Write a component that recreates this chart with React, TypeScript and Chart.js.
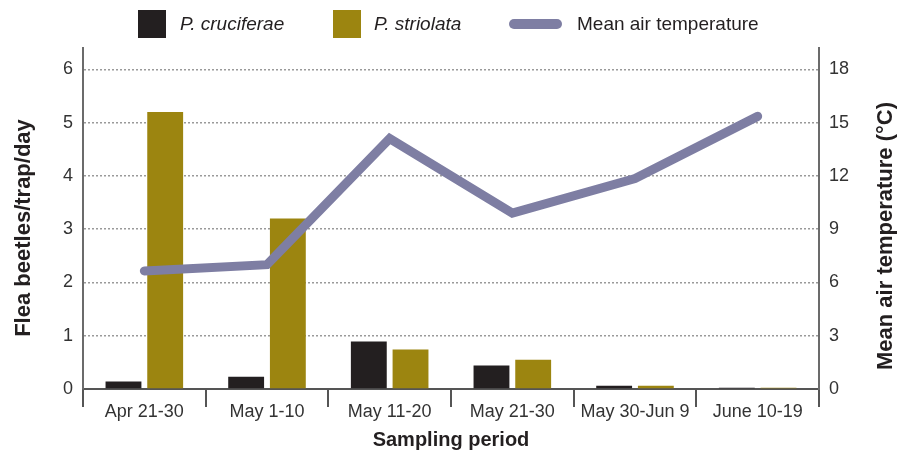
import React, { useEffect, useRef } from "react";
import { Chart, registerables } from "chart.js";

Chart.register(...registerables);

const categories = ["Apr 21-30", "May 1-10", "May 11-20", "May 21-30", "May 30-Jun 9", "June 10-19"];
const cruciferae = [0.14, 0.23, 0.89, 0.44, 0.06, 0.025];
const striolata = [5.2, 3.2, 0.74, 0.55, 0.06, 0.025];
const meanTemp = [6.65, 7.0, 14.1, 9.9, 11.85, 15.35];
const leftTicks = [0, 1, 2, 3, 4, 5, 6];
const rightTicks = [0, 3, 6, 9, 12, 15, 18];

const FONT = "'Liberation Sans', Arial, Helvetica, sans-serif";
const BLACK = "#231f20";
const GOLD = "#9c8510";
const LINE = "#7e7ea3";
const AXIS = "#6b6b6b";

const legendPlugin = {
  id: "customLegend",
  afterDraw(chart: any) {
    const ctx = chart.ctx;
    ctx.save();
    ctx.fillStyle = BLACK;
    ctx.fillRect(138, 10, 28, 28);
    ctx.fillStyle = GOLD;
    ctx.fillRect(333, 10, 28, 28);
    ctx.strokeStyle = LINE;
    ctx.lineWidth = 10;
    ctx.lineCap = "round";
    ctx.beginPath();
    ctx.moveTo(514, 24);
    ctx.lineTo(557, 24);
    ctx.stroke();
    ctx.fillStyle = BLACK;
    ctx.textBaseline = "middle";
    ctx.textAlign = "left";
    ctx.font = `italic 19px ${FONT}`;
    ctx.fillText("P. cruciferae", 180, 25);
    ctx.fillText("P. striolata", 374, 25);
    ctx.font = `19px ${FONT}`;
    ctx.fillText("Mean air temperature", 577, 25);
    // axis titles, reading bottom to top
    ctx.font = `bold 22px ${FONT}`;
    ctx.textAlign = "center";
    ctx.save();
    ctx.translate(24, 228);
    ctx.rotate(-Math.PI / 2);
    ctx.fillText("Flea beetles/trap/day", 0, 0);
    ctx.restore();
    ctx.save();
    ctx.translate(886, 236);
    ctx.rotate(-Math.PI / 2);
    ctx.fillText("Mean air temperature (\u00B0C)", 0, 0);
    ctx.restore();
    ctx.restore();
  },
};

export default function App() {
  const ref = useRef<HTMLCanvasElement>(null);
  useEffect(() => {
    if (!ref.current) return;
    const chart = new Chart(ref.current, {
      type: "bar",
      data: {
        labels: categories,
        datasets: [
          {
            type: "line",
            label: "Mean air temperature",
            data: meanTemp,
            yAxisID: "y1",
            borderColor: LINE,
            backgroundColor: LINE,
            borderWidth: 9,
            borderCapStyle: "round",
            borderJoinStyle: "miter",
            pointRadius: 0,
            tension: 0,
            order: 0,
          } as any,
          {
            label: "P. cruciferae",
            data: cruciferae,
            backgroundColor: BLACK,
            yAxisID: "y",
            barPercentage: 0.86,
            categoryPercentage: 0.68,
            order: 1,
          },
          {
            label: "P. striolata",
            data: striolata,
            backgroundColor: GOLD,
            yAxisID: "y",
            barPercentage: 0.86,
            categoryPercentage: 0.68,
            order: 1,
          },
        ],
      },
      options: {
        animation: false,
        responsive: true,
        maintainAspectRatio: false,
        layout: { padding: { top: 48, left: 0, right: 0, bottom: 0 } },
        plugins: { legend: { display: false }, tooltip: { enabled: false } },
        scales: {
          x: {
            grid: {
              display: true,
              drawOnChartArea: false,
              drawTicks: true,
              tickLength: 18,
              color: "#555",
              lineWidth: 2,
              offset: true,
            },
            border: { display: true, color: "#555", width: 2 },
            ticks: { color: "#333", font: { family: FONT, size: 18 }, padding: -6, maxRotation: 0 },
            title: {
              display: true,
              text: "Sampling period",
              color: BLACK,
              font: { family: FONT, size: 20, weight: "bold" },
              padding: { top: 0, bottom: 1 },
            },
            afterFit: (s: any) => { s.height = 64; },
          },
          y: {
            position: "left",
            min: 0,
            max: 6.4,
            afterBuildTicks: (s: any) => { s.ticks = leftTicks.map((v) => ({ value: v })); },
            grid: {
              color: "#9a9a9a",
              lineWidth: 1.5,
              drawTicks: false,
            },
            border: { display: true, color: AXIS, width: 2, dash: [2, 2] },
            ticks: { color: "#333", font: { family: FONT, size: 18 }, padding: 10 },
            afterFit: (s: any) => { s.width = 83; },
          },
          y1: {
            position: "right",
            min: 0,
            max: 19.2,
            afterBuildTicks: (s: any) => { s.ticks = rightTicks.map((v) => ({ value: v })); },
            grid: { display: false, drawOnChartArea: false, drawTicks: false },
            border: { display: true, color: AXIS, width: 2 },
            ticks: { color: "#333", font: { family: FONT, size: 18 }, padding: 10 },
            afterFit: (s: any) => { s.width = 86; },
          },
        },
      },
      plugins: [legendPlugin],
    });
    return () => chart.destroy();
  }, []);
  return (
    <div style={{ position: "fixed", left: 0, top: 0, width: 905, height: 453, background: "#fff" }}>
      <canvas ref={ref} />
    </div>
  );
}
